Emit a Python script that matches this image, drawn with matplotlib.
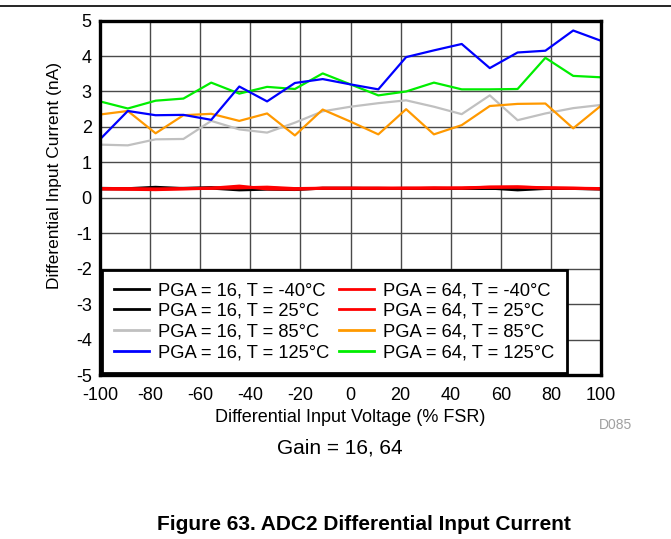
import matplotlib
matplotlib.use("Agg")
import matplotlib.pyplot as plt

plt.rcParams['font.family'] = ['Liberation Sans', 'DejaVu Sans']
plt.rcParams['axes.unicode_minus'] = False

# sweep points (% FSR)
vin = [-100, -88.9, -77.8, -66.7, -55.6, -44.4, -33.3, -22.2, -11.1, 0,
       11.1, 22.2, 33.3, 44.4, 55.6, 66.7, 77.8, 88.9, 100]

# PGA = 16
pga16_m40 = [0.27, 0.26, 0.30, 0.26, 0.27, 0.22, 0.24, 0.23, 0.27, 0.27,
             0.27, 0.26, 0.27, 0.26, 0.27, 0.22, 0.26, 0.26, 0.25]
pga16_25 = [0.25, 0.25, 0.27, 0.27, 0.29, 0.26, 0.28, 0.25, 0.27, 0.27,
            0.26, 0.27, 0.26, 0.26, 0.26, 0.26, 0.27, 0.26, 0.25]
pga16_85 = [1.50, 1.48, 1.65, 1.66, 2.17, 1.93, 1.84, 2.12, 2.44, 2.57,
            2.67, 2.75, 2.57, 2.36, 2.89, 2.19, 2.38, 2.53, 2.62]
pga16_125 = [1.65, 2.45, 2.33, 2.34, 2.20, 3.14, 2.72, 3.24, 3.35, 3.20,
             3.06, 3.97, 4.16, 4.34, 3.66, 4.10, 4.15, 4.72, 4.43]

# PGA = 64
pga64_m40 = [0.25, 0.24, 0.23, 0.25, 0.27, 0.33, 0.25, 0.24, 0.27, 0.27,
             0.27, 0.27, 0.27, 0.28, 0.30, 0.31, 0.28, 0.27, 0.25]
pga64_25 = [0.26, 0.26, 0.25, 0.26, 0.27, 0.28, 0.30, 0.26, 0.27, 0.27,
            0.27, 0.27, 0.28, 0.27, 0.30, 0.30, 0.28, 0.27, 0.26]
pga64_85 = [2.35, 2.45, 1.82, 2.33, 2.37, 2.17, 2.38, 1.76, 2.49, 2.15,
            1.79, 2.50, 1.79, 2.05, 2.59, 2.65, 2.66, 1.96, 2.60]
pga64_125 = [2.72, 2.52, 2.74, 2.80, 3.25, 2.94, 3.13, 3.07, 3.51, 3.20,
             2.89, 3.00, 3.25, 3.06, 3.06, 3.07, 3.95, 3.44, 3.40]

x_ticks = [-100, -80, -60, -40, -20, 0, 20, 40, 60, 80, 100]
y_ticks = [5, 4, 3, 2, 1, 0, -1, -2, -3, -4, -5]

fig = plt.figure(figsize=(6.71, 5.39), dpi=100)
ax = fig.add_axes([100 / 671, 1 - 375 / 539, 501 / 671, 354.4 / 539])

# top rule across the page
fig.add_artist(plt.Line2D([0, 1], [1 - 6 / 539, 1 - 6 / 539],
                          color='black', lw=1.2, transform=fig.transFigure))

ax.plot(vin, pga16_m40, color='black', lw=2, label='PGA = 16, T = -40°C')
ax.plot(vin, pga16_25, color='black', lw=2, label='PGA = 16, T = 25°C')
ax.plot(vin, pga16_85, color='#c0c0c0', lw=1.6, label='PGA = 16, T = 85°C')
ax.plot(vin, pga64_m40, color='#ff0000', lw=2.2, label='PGA = 64, T = -40°C')
ax.plot(vin, pga64_25, color='#ff0000', lw=2.2, label='PGA = 64, T = 25°C')
ax.plot(vin, pga64_85, color='#ff9900', lw=1.6, label='PGA = 64, T = 85°C')
ax.plot(vin, pga64_125, color='#00ee00', lw=1.6, label='PGA = 64, T = 125°C')
ax.plot(vin, pga16_125, color='#0000ff', lw=1.6, label='PGA = 16, T = 125°C')

ax.set_xlim(-100, 100)
ax.set_ylim(-5, 5)
ax.set_xticks(x_ticks)
ax.set_yticks(y_ticks)
ax.tick_params(axis='x', length=0, labelsize=13, pad=9)
ax.tick_params(axis='y', length=0, labelsize=13, pad=6)
ax.grid(True, color='#4a4a4a', lw=1)
for s in ax.spines.values():
    s.set_linewidth(2.4)

ax.set_xlabel('Differential Input Voltage (% FSR)', fontsize=13, labelpad=3)

# legend order: left column PGA 16, right column PGA 64
h, l = ax.get_legend_handles_labels()
order = [0, 1, 2, 7, 3, 4, 5, 6]
leg = ax.legend([h[i] for i in order], [l[i] for i in order], ncol=2,
                loc='lower left', bbox_to_anchor=(0, 0), borderaxespad=0.1,
                fontsize=13.2, fancybox=False, framealpha=1, edgecolor='black',
                handlelength=1.9, handletextpad=0.5, columnspacing=0.55,
                labelspacing=0.2, borderpad=0.66)
leg.get_frame().set_linewidth(2)
for line in leg.get_lines():
    line.set_linewidth(2)

fig.text(55 / 671, 1 - 176 / 539, 'Differential Input Current (nA)',
         rotation=90, ha='center', va='center', fontsize=12.5)
fig.text(615 / 671, 1 - 425 / 539, 'D085', ha='center', va='center',
         fontsize=10, color='#a0a0a0')
fig.text(340 / 671, 1 - 448 / 539, 'Gain = 16, 64', ha='center', va='center',
         fontsize=15)
fig.text(364 / 671, 1 - 524 / 539, 'Figure 63. ADC2 Differential Input Current',
         ha='center', va='center', fontsize=15, fontweight='bold')

fig.savefig('out.png', dpi=100)
